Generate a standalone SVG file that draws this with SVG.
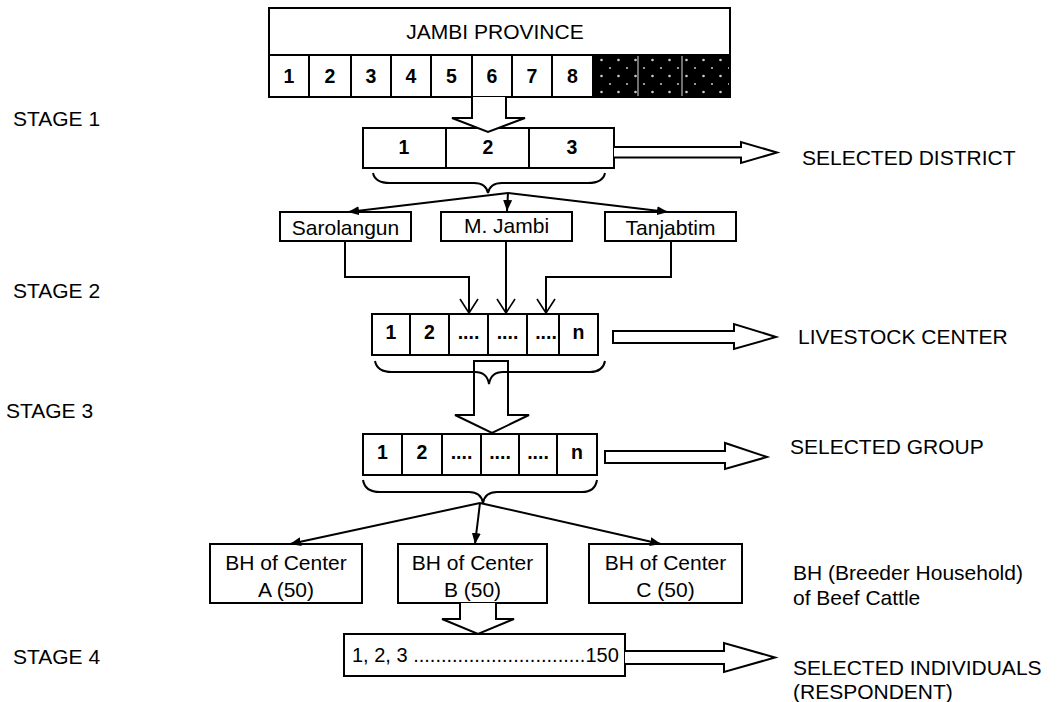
<svg xmlns="http://www.w3.org/2000/svg" width="1057" height="702" viewBox="0 0 1057 702">
<style>
text{font-family:"Liberation Sans",Arial,sans-serif;font-size:21px;fill:#000}
.b{font-weight:bold;font-size:19.5px}
.m{text-anchor:middle}
.box{fill:#fff;stroke:#000;stroke-width:2}
.ln{fill:none;stroke:#000;stroke-width:2}
.blk{fill:#fff;stroke:#000;stroke-width:2;stroke-linejoin:miter}
.bn{fill:none;stroke:#000;stroke-width:2}
</style>
<defs>
<marker id="fa" markerUnits="userSpaceOnUse" viewBox="0 0 11 9" markerWidth="11" markerHeight="9" refX="11" refY="4.5" orient="auto"><path d="M0,0 L11,4.5 L0,9 z" fill="#000"/></marker>
<marker id="oa" markerUnits="userSpaceOnUse" viewBox="0 0 15 20" markerWidth="15" markerHeight="20" refX="14" refY="10" orient="auto" overflow="visible"><path d="M0,1 L14,10 L0,19" fill="none" stroke="#000" stroke-width="1.6"/></marker>
<pattern id="dots" patternUnits="userSpaceOnUse" x="593" y="56" width="17" height="16"><rect width="17" height="16" fill="#000"/><circle cx="8.5" cy="4" r="1.3" fill="#ccc"/><circle cx="0" cy="12" r="1.1" fill="#bbb"/><circle cx="17" cy="12" r="1.1" fill="#bbb"/></pattern>
</defs>

<g id="stage-labels">
<text x="13" y="126">STAGE 1</text>
<text x="13" y="298">STAGE 2</text>
<text x="6" y="418">STAGE 3</text>
<text x="13" y="664">STAGE 4</text>
</g>

<g id="province">
<rect class="box" x="269" y="8" width="461" height="89"/>
<line class="ln" x1="269" y1="55" x2="730" y2="55"/>
<rect x="593" y="56" width="137" height="40" fill="url(#dots)"/>
<g class="ln">
<line x1="309" y1="55" x2="309" y2="97"/><line x1="351" y1="55" x2="351" y2="97"/><line x1="391" y1="55" x2="391" y2="97"/><line x1="431" y1="55" x2="431" y2="97"/><line x1="472" y1="55" x2="472" y2="97"/><line x1="512" y1="55" x2="512" y2="97"/><line x1="552" y1="55" x2="552" y2="97"/><line x1="593" y1="55" x2="593" y2="97"/>
</g>
<line x1="638" y1="56" x2="638" y2="96" stroke="#bbb" stroke-width="1.2"/>
<line x1="682" y1="56" x2="682" y2="96" stroke="#bbb" stroke-width="1.2"/>
<rect x="269" y="8" width="461" height="89" fill="none" stroke="#000" stroke-width="2"/>
<text class="m" x="495" y="39">JAMBI PROVINCE</text>
<text x="289" y="83" class="b m">1</text><text x="330" y="83" class="b m">2</text><text x="371" y="83" class="b m">3</text><text x="411" y="83" class="b m">4</text><text x="451.5" y="83" class="b m">5</text><text x="492" y="83" class="b m">6</text><text x="532" y="83" class="b m">7</text><text x="572.5" y="83" class="b m">8</text>
</g>

<g id="selected-district-box">
<rect class="box" x="363" y="128" width="251" height="40"/>
<line class="ln" x1="446" y1="128" x2="446" y2="168"/>
<line class="ln" x1="529" y1="128" x2="529" y2="168"/>
<text class="b m" x="404" y="154">1</text>
<text class="b m" x="488" y="154">2</text>
<text class="b m" x="572" y="154">3</text>
</g>
<g id="selected-district-label"><text x="802" y="165">SELECTED DISTRICT</text></g>

<g id="sarolangun">
<rect class="box" x="280" y="212" width="131" height="29"/>
<text class="m" x="345.5" y="235">Sarolangun</text>
</g>
<g id="mjambi">
<rect class="box" x="441" y="212" width="131" height="29"/>
<text class="m" x="506.5" y="233">M. Jambi</text>
</g>
<g id="tanjabtim">
<rect class="box" x="605" y="212" width="131" height="29"/>
<text class="m" x="670.5" y="235">Tanjabtim</text>
</g>

<g id="livestock-center-box">
<rect class="box" x="372" y="314" width="226" height="41"/>
<g class="ln"><line x1="410" y1="314" x2="410" y2="355"/><line x1="449" y1="314" x2="449" y2="355"/><line x1="488" y1="314" x2="488" y2="355"/><line x1="527" y1="314" x2="527" y2="355"/><line x1="559" y1="314" x2="559" y2="355"/></g>
<text class="b m" x="391" y="339">1</text>
<text class="b m" x="429.5" y="339">2</text>
<text class="b m" x="468.5" y="339">....</text>
<text class="b m" x="507.5" y="339">....</text>
<text class="b m" x="546" y="339">....</text>
<text class="b m" x="578.5" y="339">n</text>
</g>
<g id="livestock-center-label"><text x="798" y="344">LIVESTOCK CENTER</text></g>

<g id="selected-group-box">
<rect class="box" x="363" y="434" width="234" height="41"/>
<g class="ln"><line x1="402" y1="434" x2="402" y2="475"/><line x1="442" y1="434" x2="442" y2="475"/><line x1="481" y1="434" x2="481" y2="475"/><line x1="519" y1="434" x2="519" y2="475"/><line x1="557" y1="434" x2="557" y2="475"/></g>
<text class="b m" x="382.5" y="459">1</text>
<text class="b m" x="422" y="459">2</text>
<text class="b m" x="461.5" y="459">....</text>
<text class="b m" x="500" y="459">....</text>
<text class="b m" x="538" y="459">....</text>
<text class="b m" x="577" y="459">n</text>
</g>
<g id="selected-group-label"><text x="790" y="454">SELECTED GROUP</text></g>

<g id="bh-a">
<rect class="box" x="210" y="544" width="152" height="59"/>
<text class="m" x="286" y="570">BH of Center</text>
<text class="m" x="286" y="597">A (50)</text>
</g>
<g id="bh-b">
<rect class="box" x="398" y="544" width="149" height="59"/>
<text class="m" x="472.5" y="570">BH of Center</text>
<text class="m" x="472.5" y="597">B (50)</text>
</g>
<g id="bh-c">
<rect class="box" x="589" y="544" width="153" height="59"/>
<text class="m" x="665.5" y="570">BH of Center</text>
<text class="m" x="665.5" y="597">C (50)</text>
</g>
<g id="bh-note">
<text x="793" y="580">BH (Breeder Household)</text>
<text x="793" y="605">of Beef Cattle</text>
</g>

<g id="respondents-box">
<rect class="box" x="344" y="634" width="281" height="42"/>
<text x="352" y="662" style="font-size:20px">1, 2, 3  ...............................150</text>
</g>
<g id="respondents-label">
<text x="793" y="675">SELECTED INDIVIDUALS</text>
<text x="793" y="699">(RESPONDENT)</text>
</g>

<g id="connectors">
<path class="blk" d="M472,97 V118 H452 L488,132 L525,118 H506 V97"/>
<path class="blk" d="M614,147 H741 V142 L777,152.5 L741,163 V157.5 H614"/>
<path class="ln" d="M373,173 Q375,183 390,183 H474 Q486,183 488,193 Q490,183 502,183 H588 Q603,183 605,173"/>
<line class="ln" x1="508" y1="193" x2="348" y2="212" marker-end="url(#fa)"/>
<line class="ln" x1="508" y1="193" x2="507" y2="211" marker-end="url(#fa)"/>
<line class="ln" x1="508" y1="193" x2="668" y2="212" marker-end="url(#fa)"/>
<polyline class="ln" points="345,241 345,277 469,277 469,313" marker-end="url(#oa)"/>
<polyline class="ln" points="506,241 506,313" marker-end="url(#oa)"/>
<polyline class="ln" points="671,241 671,277 546,277 546,313" marker-end="url(#oa)"/>
<path class="blk" d="M613,331 H734 V324 L776,337 L734,349 V343 H613 Z"/>
<path class="ln" d="M375,361 Q377,372 392,372 H475 Q487,372 489,384 Q491,372 503,372 H590 Q603,372 605,361"/>
<path class="bn" d="M474,361 H508 V415 H529 L492,433 L455,415 H474 Z"/>
<path class="blk" d="M605,451 H725 V443 L767,457 L725,469 V463 H605 Z"/>
<path class="ln" d="M363,480 Q365,492 380,492 H469 Q481,492 483,503 Q485,492 497,492 H582 Q595,492 597,480"/>
<line class="ln" x1="480" y1="503" x2="290" y2="544" marker-end="url(#fa)"/>
<line class="ln" x1="480" y1="503" x2="475" y2="544" marker-end="url(#fa)"/>
<line class="ln" x1="480" y1="503" x2="661" y2="544" marker-end="url(#fa)"/>
<path class="blk" d="M460,603 V619 H442 L478,634 L514,619 H496 V603"/>
<path class="blk" d="M625,651 H724 V643 L775,657.5 L724,672 V664 H625"/>
</g>
</svg>
